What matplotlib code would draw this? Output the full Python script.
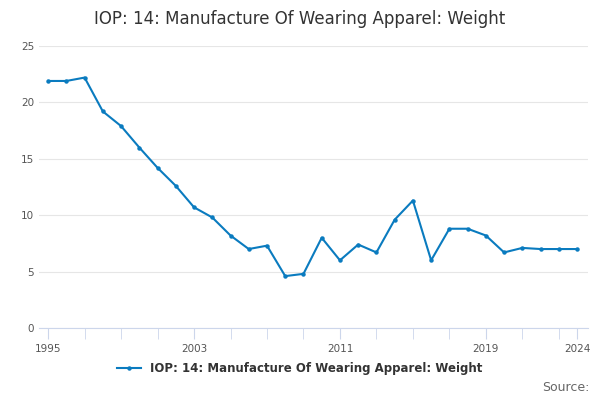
import matplotlib.pyplot as plt

years = list(range(1995, 2025))
values = [21.9, 21.9, 22.2, 19.2, 17.9, 16.0, 14.2, 12.6, 10.7, 9.8,
          8.2, 7.0, 7.3, 4.6, 4.8, 8.0, 6.0, 7.4, 6.7, 9.6,
          11.3, 6.0, 8.8, 8.8, 8.2, 6.7, 7.1, 7.0, 7.0, 7.0]
tick_years = [1995, 2003, 2011, 2019, 2024]
label = 'IOP: 14: Manufacture Of Wearing Apparel: Weight'

fig = plt.figure(figsize=(6, 4), dpi=100)
ax = fig.add_axes([0.065, 0.18, 0.915, 0.705])
ax.plot(years, values, color='#0a7bbf', lw=1.5, marker='o', ms=2.2, label=label)

ax.set_ylim(0, 25)
ax.set_yticks([0, 5, 10, 15, 20, 25])
ax.set_xlim(1994.5, 2024.6)
ax.set_xticks(list(range(1995, 2025, 2)) + [2024], minor=True)
ax.set_xticks(tick_years)
ax.tick_params(axis='x', which='both', length=8, color='#ccd6eb', labelsize=7.5, labelcolor='#555555')
ax.tick_params(axis='y', length=0, labelsize=7.5, labelcolor='#555555')
ax.grid(axis='y', color='#e6e6e6', lw=0.8)
for s in ['top', 'right', 'left']:
    ax.spines[s].set_visible(False)
ax.spines['bottom'].set_color('#ccd6eb')

fig.suptitle(label, y=0.975, fontsize=12, color='#333333')
fig.legend(loc='lower center', bbox_to_anchor=(0.5, 0.035), frameon=False,
           prop={'size': 8.5, 'weight': 'bold'}, labelcolor='#333333')
fig.text(0.982, 0.015, 'Source:', ha='right', va='bottom', fontsize=9, color='#666666')

fig.savefig('out.png')
